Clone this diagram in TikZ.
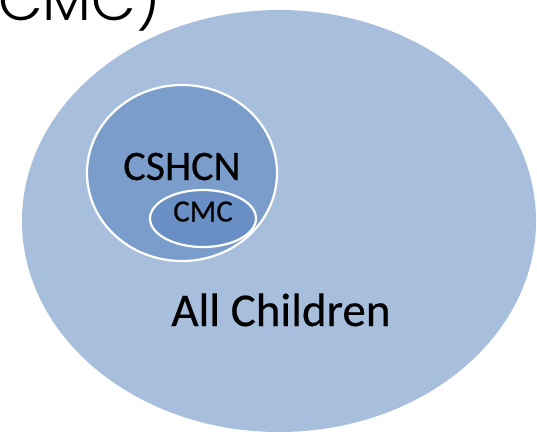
\documentclass[tikz,border=0pt]{standalone}
\usepackage{fontspec}
\setmainfont{Carlito}[RawFeature={embolden=0.4}]
\newfontfamily\gothic{Poppins Light}
\definecolor{allc}{HTML}{A7BFDD}
\definecolor{cshc}{HTML}{7B9DCB}
\definecolor{cmcc}{HTML}{6A8FC4}
\tikzset{
  setshape/.style={ellipse, draw=white, line width=2.2pt, inner sep=0pt},
  lbl/.style={text=black, inner sep=0pt, anchor=base}
}
\usetikzlibrary{shapes.geometric}
\begin{document}
\begin{tikzpicture}[x=1pt,y=-1pt]
\useasboundingbox (0,0) rectangle (537,434);
\clip (0,0) rectangle (537,434);
\fill[white] (0,0) rectangle (537,434);
\node[ellipse, fill=allc, minimum width=514pt, minimum height=422pt, inner sep=0pt] (all) at (279,221) {};
\node[setshape, fill=cshc, minimum width=190pt, minimum height=176pt] (cshcn) at (182,173) {};
\node[setshape, fill=cmcc, minimum width=106pt, minimum height=57pt] (cmc) at (203,218.5) {};
\node[lbl, font=\fontsize{42}{42}\selectfont] (tcshcn) at (182,180) {CSHCN};
\node[lbl, font=\fontsize{31}{31}\selectfont] (tcmc) at (203,221.5) {CMC};
\node[lbl, font=\fontsize{47}{47}\selectfont] (tall) at (281,326) {All Children};
\node[inner sep=0pt, anchor=base west, font=\gothic\fontsize{58}{58}\selectfont] (title) at (-2,20) {CMC)};
\end{tikzpicture}
\end{document}
